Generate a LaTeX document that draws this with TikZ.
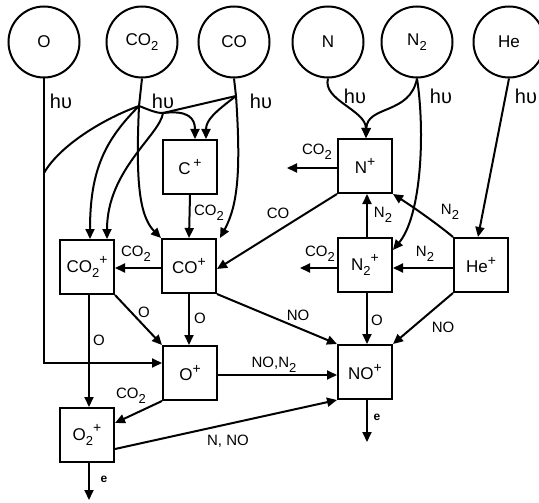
\documentclass[tikz,border=0pt]{standalone}
\usepackage{fontspec}
\setmainfont{Liberation Sans}
\usetikzlibrary{arrows.meta}
\newcommand\ionsub[1]{\raisebox{-0.3em}{\fontsize{13}{13}\selectfont #1}}
\newcommand\ionplus{\raisebox{0.45em}{\fontsize{14}{14}\selectfont +}}
\begin{document}
\begin{tikzpicture}[x=1pt,y=-1pt,line width=2pt,
  mol/.style={circle,draw,minimum size=71pt,inner sep=0pt,font=\fontsize{17}{19}\selectfont},
  ion/.style={rectangle,draw,minimum size=54pt,inner sep=0pt,font=\fontsize{17}{19}\selectfont},
  lab/.style={inner sep=0pt,font=\fontsize{15}{17}\selectfont},
  hlab/.style={inner sep=0pt,font=\fontsize{20}{22}\selectfont},
  elab/.style={inner sep=0pt,font=\fontsize{12}{13}\selectfont\bfseries},
  arr/.style={-{Triangle[length=10pt,width=9pt]}}]
\useasboundingbox (0,0) rectangle (539,503);

% neutral species
\node[mol] (mO) at (44,42) {O};
\node[mol] (mCO2) at (142,42) {CO\ionsub{2}};
\node[mol] (mCO) at (234,42) {CO};
\node[mol] (mN) at (328,42) {N};
\node[mol] (mN2) at (417,42) {N\ionsub{2}};
\node[mol] (mHe) at (509,42) {He};

% ions
\node[ion] (Cp) at (190,167) {C\,\ionplus};
\node[ion] (Np) at (365,166) {N\ionplus};
\node[ion] (CO2p) at (87,267) {CO\ionsub{2}\ionplus};
\node[ion] (COp) at (189,266) {CO\ionplus};
\node[ion] (N2p) at (365,265) {N\ionsub{2}\ionplus};
\node[ion] (Hep) at (481,265) {He\ionplus};
\node[ion] (Op) at (190,373) {O\ionplus};
\node[ion] (NOp) at (365,372) {NO\ionplus};
\node[ion] (O2p) at (87,435) {O\ionsub{2}\ionplus};

% branch points and free ends
\coordinate (bCO2) at (139,106);
\coordinate (J) at (163,113);
\coordinate (bCO) at (236,96);
\coordinate (oL) at (44,173);
\coordinate (eO2) at (89,500);
\coordinate (eNO) at (367,442);
\coordinate (nCO2) at (287,168);
\coordinate (n2CO2) at (300,268);

% photo-ionisation paths
\draw[arr] (mO.south) |- ([yshift=10pt]Op.west);
\draw (mCO2.south) -- (bCO2);
\draw (bCO2) .. controls (105,118) and (60,145) .. (oL);
\draw[arr] (bCO2) .. controls (105,140) and (90,170) .. ([xshift=3pt]CO2p.north);
\draw[arr] (bCO2) .. controls (150,110) and (155,113) .. (J) .. controls (188,110) and (195,118) .. ([xshift=5pt]Cp.north);
\draw[arr] (J) .. controls (160,135) and (107,170) .. ([xshift=20pt]CO2p.north);
\draw[arr] (bCO2) .. controls (136,175) and (138,215) .. (COp.north west);
\draw (mCO.south) -- (bCO);
\draw (bCO) -- (J);
\draw[arr] (bCO) .. controls (215,112) and (206,120) .. ([xshift=16pt]Cp.north);
\draw[arr] (bCO) .. controls (241,170) and (238,205) .. ([xshift=3pt]COp.north east);
\draw[arr] (mN.south) .. controls (322,100) and (366,110) .. ([xshift=1pt]Np.north);
\draw[arr] (mN2.south) .. controls (410,115) and (367,105) .. ([xshift=1pt]Np.north);
\draw[arr] (mN2.south) .. controls (425,130) and (422,215) .. ([yshift=15pt]N2p.east);
\draw[arr] (mHe.south) -- ([xshift=-3pt]Hep.north);

% ion reactions
\draw[arr] (Cp.south) -- (COp.north);
\draw[arr] ([yshift=-2pt]COp.west) -- ([yshift=-2pt]COp.west -| CO2p.east);
\draw[arr] (COp.south) -- (COp.south |- Op.north);
\draw[arr] (CO2p.south east) -- (Op.north west);
\draw[arr] ([xshift=2pt]CO2p.south) -- ([xshift=2pt]CO2p.south |- O2p.north);
\draw[arr] (Op.south west) -- ([yshift=12pt]O2p.east);
\draw[arr] ([yshift=-2pt]Op.east) -- ([yshift=-2pt]Op.east -| NOp.west);
\draw[arr] ([yshift=-14pt]O2p.east) -- (NOp.south west);
\draw[arr] ([xshift=2pt]O2p.south) -- (eO2);
\draw[arr] ([xshift=2pt]NOp.south) -- (eNO);
\draw[arr] (COp.south east) -- (NOp.north west);
\draw[arr] (Np.south west) -- ([yshift=-3pt]COp.east);
\draw[arr] ([yshift=-2pt]Np.west) -- (nCO2);
\draw[arr] ([xshift=2pt]N2p.north) -- ([xshift=2pt]Np.south);
\draw[arr] (Hep.north west) .. controls (435,222) and (410,205) .. (Np.south east);
\draw[arr] ([yshift=-3pt]Hep.west) -- ([yshift=-3pt]Hep.west -| N2p.east);
\draw[arr] ([yshift=-3pt]N2p.west) -- (n2CO2);
\draw[arr] ([xshift=2pt]N2p.south) -- ([xshift=2pt]NOp.north);
\draw[arr] (Hep.south west) -- (NOp.north east);

% h nu labels
\node[hlab] (h1) at (61,101) {hυ};
\node[hlab] (h2) at (163,101) {hυ};
\node[hlab] (h3) at (261,101) {hυ};
\node[hlab] (h4) at (355,96) {hυ};
\node[hlab] (h5) at (441,96) {hυ};
\node[hlab] (h6) at (526,96) {hυ};

% reaction labels
\node[lab] (l1) at (209,213) {CO\ionsub{2}};
\node[lab] (l2) at (136,254) {CO\ionsub{2}};
\node[lab] (l3) at (144,312) {O};
\node[lab] (l4) at (200,318) {O};
\node[lab] (l5) at (99,340) {O};
\node[lab] (l6) at (131,396) {CO\ionsub{2}};
\node[lab] (l7) at (274,365) {NO,N\ionsub{2}};
\node[lab] (l8) at (228,441) {N, NO};
\node[elab] (l9) at (104,479) {e};
\node[elab] (l10) at (377,417) {e};
\node[lab] (l11) at (298,315) {NO};
\node[lab] (l12) at (278,213) {CO};
\node[lab] (l13) at (317,152) {CO\ionsub{2}};
\node[lab] (l14) at (383,215) {N\ionsub{2}};
\node[lab] (l15) at (450,212) {N\ionsub{2}};
\node[lab] (l16) at (425,254) {N\ionsub{2}};
\node[lab] (l17) at (320,254) {CO\ionsub{2}};
\node[lab] (l18) at (377,320) {O};
\node[lab] (l19) at (443,327) {NO};
\end{tikzpicture}
\end{document}
